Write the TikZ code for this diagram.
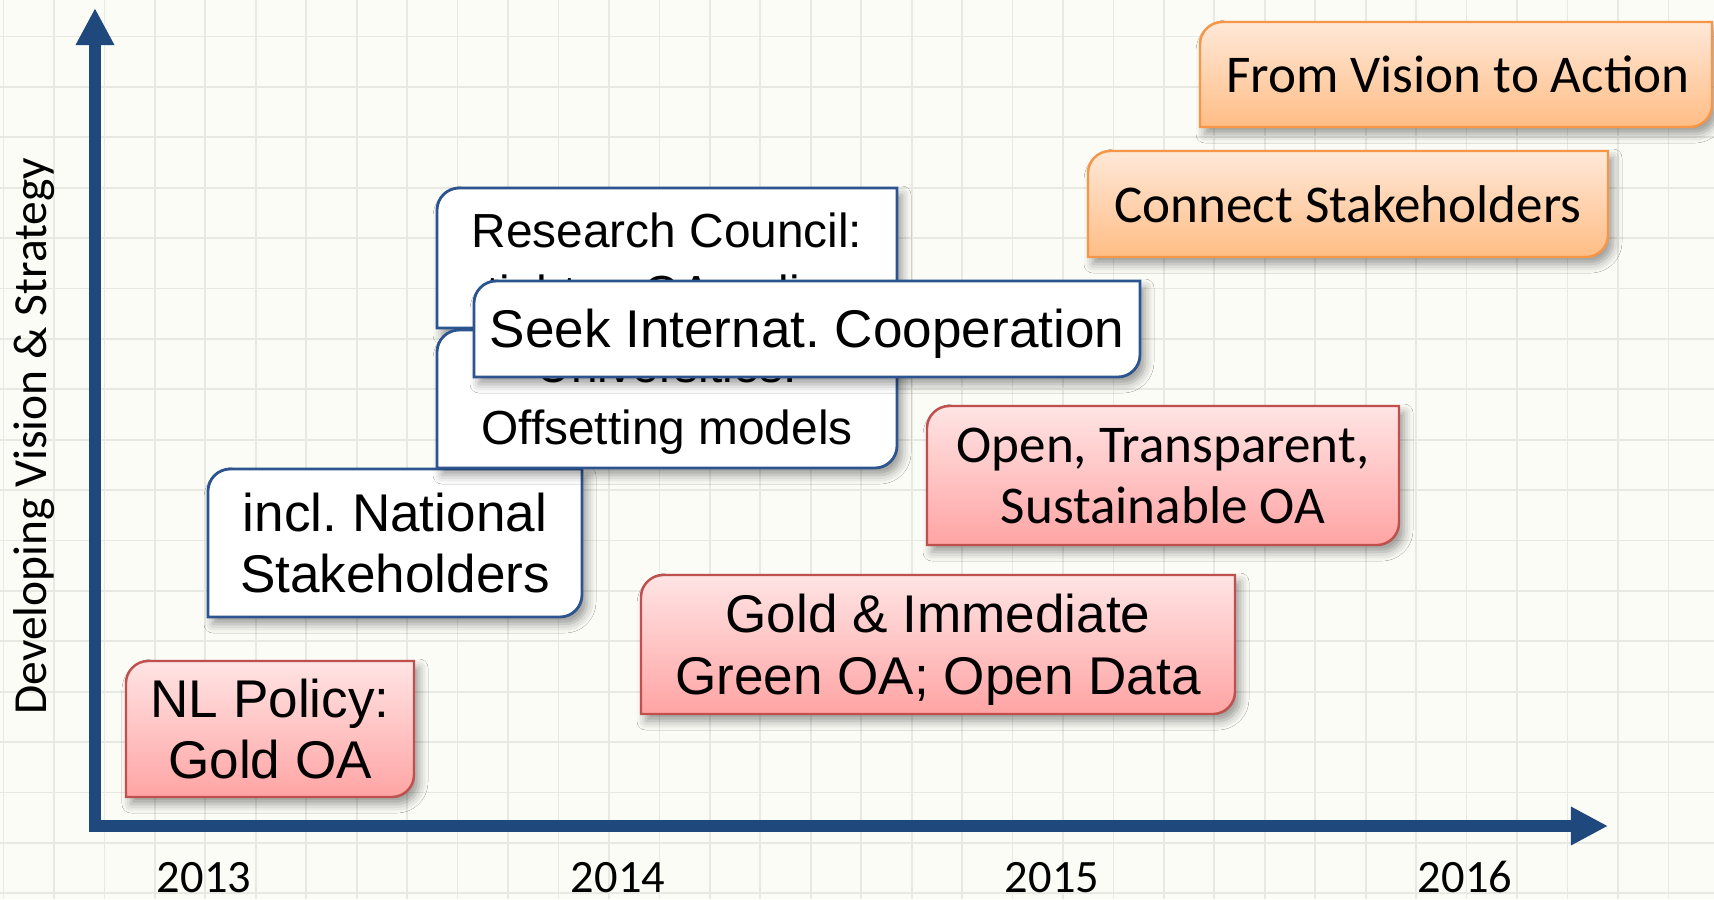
\documentclass[tikz,border=0pt]{standalone}
\usepackage{fontspec}
\setmainfont{Liberation Sans}
\newfontfamily\calibri{Carlito}
\usepackage{tikz}
\usetikzlibrary{arrows.meta,shadows.blur}
\frenchspacing
\definecolor{paper}{HTML}{FCFCF7}
\definecolor{gridgray}{HTML}{E9E9E3}
\definecolor{axisblue}{HTML}{1F497D}
\definecolor{boxblue}{HTML}{2C5590}
\definecolor{redline}{HTML}{C0504D}
\definecolor{redtop}{HTML}{FFE4E4}
\definecolor{redbot}{HTML}{FFA4A4}
\definecolor{orangeline}{HTML}{F79646}
\definecolor{orangetop}{HTML}{FFE8D8}
\definecolor{orangebot}{HTML}{FFBD85}
\tikzstyle{gridline} = [draw=gridgray, line width=0.5pt]
\tikzstyle{axis} = [draw=axisblue, line width=1.2mm, line join=miter, >={Triangle[length=3.7mm,width=3.6mm]}, <->]
\tikzstyle{boxshadow} = [blur shadow={shadow xshift=0.5mm, shadow yshift=-0.7mm, shadow blur radius=0.9mm, shadow opacity=40}]
\tikzstyle{bluebox} = [boxshadow, draw=boxblue, line width=0.8pt, fill=white]
\tikzstyle{redbox} = [boxshadow, draw=redline, line width=0.7pt, top color=redtop, bottom color=redbot]
\tikzstyle{orangebox} = [boxshadow, draw=orangeline, line width=0.7pt, top color=orangetop, bottom color=orangebot]
\tikzstyle{ariatxt} = [inner sep=0, align=center, font=\fontsize{15.1pt}{17.6pt}\selectfont]
\tikzstyle{ariasmall} = [inner sep=0, align=center, font=\fontsize{13.6pt}{17.6pt}\selectfont]
\tikzstyle{calitxt} = [inner sep=0, align=center, font=\calibri\fontsize{15.1pt}{17.6pt}\selectfont]
\tikzstyle{axislabel} = [inner sep=0, rotate=90, anchor=base, font=\calibri\fontsize{13.5pt}{16pt}\selectfont]
\tikzstyle{yearlabel} = [inner sep=0, anchor=base, font=\calibri\fontsize{13.2pt}{16pt}\selectfont]
% box with rounded top-left and bottom-right corners: style, x1, y1, x2, y2
\newcommand{\oabox}[5]{%
  \path[#1] (#2,#5) -- (#2,#3+22) .. controls (#2,#3+10) and (#2+10,#3) .. (#2+22,#3)
    -- (#4,#3) -- (#4,#5-22) .. controls (#4,#5-10) and (#4-10,#5) .. (#4-22,#5) -- cycle;}

\begin{document}
\begin{tikzpicture}[x=0.01cm, y=-0.01cm]
\useasboundingbox (0,0) rectangle (1714,899);
\clip (0,0) rectangle (1714,899);
% paper background
\fill[paper] (0,0) rectangle (1714,899);
\foreach \gx in {-1,...,33}
  \draw[gridline] ({54+50.45*\gx},0) -- ({54+50.45*\gx},899);
\foreach \gy in {0,...,17}
  \draw[gridline] (0,{36.5+50.4*\gy}) -- (1714,{36.5+50.4*\gy});

% axes
\coordinate (origin) at (95,826);
\coordinate (ytip) at (95,8);
\coordinate (xtip) at (1608,826);
\draw[axis] (ytip) -- (origin) -- (xtip);
\node (ylabel) at (46,436) [axislabel] {Developing Vision \& Strategy};
\node (y2013) at (204,892) [yearlabel] {2013};
\node (y2014) at (618,892) [yearlabel] {2014};
\node (y2015) at (1052,892) [yearlabel] {2015};
\node (y2016) at (1465,892) [yearlabel] {2016};

% 2013
\oabox{redbox}{126}{661}{414}{797}
\node (nlpolicy) at (270,729) [ariatxt] {NL Policy:\\Gold OA};
% 2014
\oabox{bluebox}{208}{469}{582}{617}
\node (national) at (395,543) [ariatxt] {incl. National\\Stakeholders};
\oabox{bluebox}{437}{188}{897}{328}
\node (council) at (667,266) [ariasmall] {Research Council:\\tighten OA policy};
\oabox{bluebox}{437}{330}{897}{468}
\node (univ) at (667,401) [ariasmall] {Universities:\\Offsetting models};
\oabox{bluebox}{474}{281}{1140}{377}
\node (seek) at (807,334) [ariatxt] {Seek Internat. Cooperation};
\oabox{redbox}{641}{575}{1235}{714}
\node (goldgreen) at (938,650) [ariatxt] {Gold \& Immediate\\Green OA; Open Data};
% 2015
\oabox{redbox}{927}{406}{1399}{545}
\node (openoa) at (1163,476) [calitxt] {Open, Transparent,\\Sustainable OA};
\oabox{orangebox}{1088}{151}{1608}{257}
\node (connect) at (1348,204) [calitxt] {Connect Stakeholders};
% 2016
\oabox{orangebox}{1200}{22}{1712}{127}
\node (vision) at (1458,74) [calitxt] {From Vision to Action};
\end{tikzpicture}
\end{document}
